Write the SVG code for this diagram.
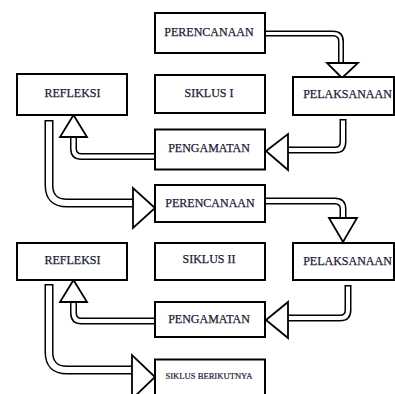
<svg xmlns="http://www.w3.org/2000/svg" width="395" height="394" viewBox="0 0 395 394">
<style>
.box{fill:#fff;stroke:#000;stroke-width:2}
.t{font-family:"Liberation Serif","Times New Roman",serif;font-size:12px;fill:#1a2036;text-anchor:middle;stroke:#1a2036;stroke-width:0.25}
.sm{font-size:8.6px;stroke-width:0.2}
.ob{fill:none;stroke:#000;stroke-width:7}
.ib{fill:none;stroke:#fff;stroke-width:4}
.obb{fill:none;stroke:#000;stroke-width:9}
.ibb{fill:none;stroke:#fff;stroke-width:6}
.os{fill:none;stroke:#000;stroke-width:6}
.is{fill:none;stroke:#fff;stroke-width:3}
.head{fill:#fff;stroke:#000;stroke-width:1.8;stroke-linejoin:miter}
</style>
<rect width="395" height="394" fill="#fff"/>
<g id="connectors">
  <g id="c1">
    <path class="os" d="M264,33.5 H333 Q341,33.5 341,41.5 V63"/>
    <path class="is" d="M264,33.5 H333 Q341,33.5 341,41.5 V63"/>
    <polygon class="head" points="327,63 358,63 342,78"/>
  </g>
  <g id="c2">
    <path class="ob" d="M343,119 V142 Q343,150 335,150 H288"/>
    <path class="ib" d="M343,120.5 V142 Q343,150 335,150 H288"/>
    <polygon class="head" points="288,134 288,170 266,151"/>
  </g>
  <g id="c3">
    <path class="ob" d="M156,156.5 H81.5 Q73.5,156.5 73.5,148.5 V137"/>
    <path class="ib" d="M156,156.5 H81.5 Q73.5,156.5 73.5,148.5 V137"/>
    <polygon class="head" points="60,137 87,137 73.5,115"/>
  </g>
  <g id="c4">
    <path class="obb" d="M49,120 V185 Q49,203 67,203 H133"/>
    <path class="ibb" d="M49,121.5 V185 Q49,203 67,203 H133"/>
    <polygon class="head" points="133,188 133,228 155,208"/>
  </g>
  <g id="c5">
    <path class="ob" d="M264,201 H335 Q343,201 343,209 V218"/>
    <path class="ib" d="M264,201 H335 Q343,201 343,209 V218"/>
    <polygon class="head" points="329,218 357,218 343,242"/>
  </g>
  <g id="c6">
    <path class="ob" d="M348,285 V310 Q348,318 340,318 H288"/>
    <path class="ib" d="M348,286.5 V310 Q348,318 340,318 H288"/>
    <polygon class="head" points="288,302 288,338 266,320"/>
  </g>
  <g id="c7">
    <path class="ob" d="M156,321 H81.5 Q73.5,321 73.5,313 V302"/>
    <path class="ib" d="M156,321 H81.5 Q73.5,321 73.5,313 V302"/>
    <polygon class="head" points="60,302 87,302 73.5,280"/>
  </g>
  <g id="c8">
    <path class="obb" d="M49,284 V352 Q49,370 67,370 H132"/>
    <path class="ibb" d="M49,285.5 V352 Q49,370 67,370 H132"/>
    <polygon class="head" points="132,355 132,399 155,377"/>
  </g>
</g>
<g id="perencanaan1"><rect class="box" x="155" y="13" width="110" height="40"/><text class="t" x="209" y="36">PERENCANAAN</text></g>
<g id="siklus1"><rect class="box" x="155" y="75" width="110" height="38"/><text class="t" x="209" y="97">SIKLUS I</text></g>
<g id="pelaksanaan1"><rect class="box" x="293" y="77" width="101" height="38"/><text class="t" x="347.5" y="98">PELAKSANAAN</text></g>
<g id="refleksi1"><rect class="box" x="17" y="74" width="110" height="41"/><text class="t" x="72.5" y="97">REFLEKSI</text></g>
<g id="pengamatan1"><rect class="box" x="155" y="129.5" width="110" height="40"/><text class="t" x="209" y="152">PENGAMATAN</text></g>
<g id="perencanaan2"><rect class="box" x="155" y="185" width="110" height="37"/><text class="t" x="210" y="207">PERENCANAAN</text></g>
<g id="refleksi2"><rect class="box" x="17" y="243" width="110" height="37"/><text class="t" x="72.5" y="264">REFLEKSI</text></g>
<g id="siklus2"><rect class="box" x="155" y="243" width="110" height="37"/><text class="t" x="209" y="263">SIKLUS II</text></g>
<g id="pelaksanaan2"><rect class="box" x="293" y="243" width="101" height="37"/><text class="t" x="347.5" y="265">PELAKSANAAN</text></g>
<g id="pengamatan2"><rect class="box" x="155" y="302" width="110" height="35"/><text class="t" x="209" y="323">PENGAMATAN</text></g>
<g id="siklus-berikutnya"><rect class="box" x="155" y="359.5" width="110" height="45"/><text class="t sm" x="209" y="379">SIKLUS BERIKUTNYA</text></g>
</svg>
